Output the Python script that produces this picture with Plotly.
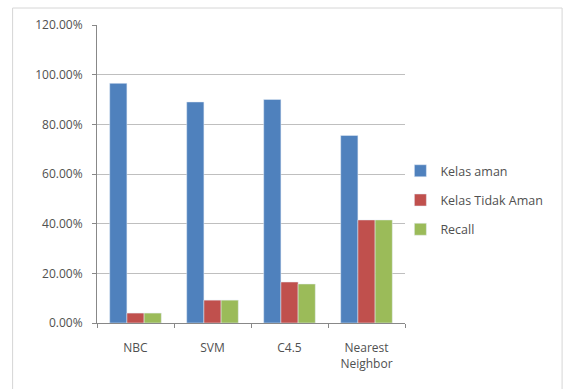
import plotly.graph_objects as go

categories = ["NBC", "SVM", "C4.5", "Nearest<br>Neighbor"]
kelas_aman = [0.965, 0.89, 0.90, 0.755]
kelas_tidak_aman = [0.04, 0.092, 0.165, 0.415]
recall = [0.04, 0.092, 0.157, 0.415]
y_ticks = [0, 0.2, 0.4, 0.6, 0.8, 1.0, 1.2]

fig = go.Figure()
fig.add_bar(x=categories, y=kelas_aman, name="Kelas aman", marker_color="#4F81BD", legendgroup="a")
fig.add_bar(x=categories, y=kelas_tidak_aman, name="Kelas Tidak Aman", marker_color="#C0504D", legendgroup="b")
fig.add_bar(x=categories, y=recall, name="Recall", marker_color="#9BBB59", legendgroup="c")

fig.update_layout(
    width=565, height=389,
    margin=dict(l=97, r=160, t=25, b=66),
    paper_bgcolor="white", plot_bgcolor="white",
    barmode="group", bargap=0.33, bargroupgap=0,
    font=dict(family="Open Sans, Liberation Sans, sans-serif", size=12, color="#505050"),
    legend=dict(x=0.985, y=0.56, xanchor="left", yanchor="top",
                font=dict(size=12.5, color="#505050"), tracegroupgap=10,
                traceorder="grouped",
                itemwidth=30, bgcolor="rgba(0,0,0,0)"),
    shapes=[dict(type="rect", xref="paper", yref="paper",
                 x0=-0.274, x1=1.51, y0=-0.24, y1=1.057,
                 line=dict(color="#D6D6D6", width=1))],
)
fig.update_yaxes(range=[0, 1.2], tickvals=y_ticks, tickformat=".2%",
                 showgrid=True, gridcolor="#BFBFBF", gridwidth=1,
                 showline=True, linecolor="#888888", ticks="outside",
                 ticklen=4, tickcolor="#888888", zeroline=False,
                 ticklabelstandoff=7)
fig.update_xaxes(showline=True, linecolor="#888888", ticks="outside",
                 tickson="boundaries", ticklen=4, tickcolor="#888888",
                 showgrid=False, ticklabelstandoff=14)

fig.write_html("out.html")
